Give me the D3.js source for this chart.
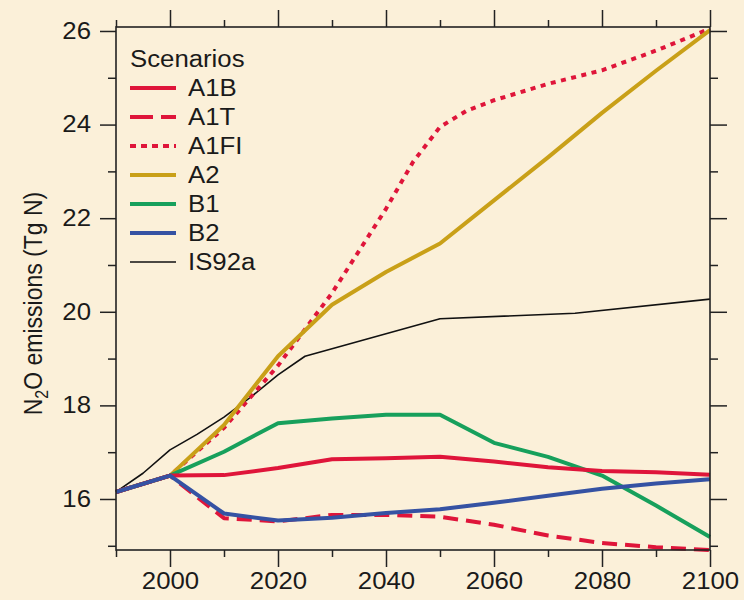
<!DOCTYPE html>
<html>
<head>
<meta charset="utf-8">
<script src="https://cdn.jsdelivr.net/npm/d3@7"></script>
<style>
  html, body { margin: 0; padding: 0; background: #FBF0D9; }
  svg { display: block; }
  text { font-family: "Liberation Sans", Arial, Helvetica, sans-serif; fill: #1a1a1a; }
</style>
</head>
<body>
<svg id="chart" width="744" height="600"></svg>
<script>
// ---------------- DATA ----------------
const sresYears = [1990, 2000, 2010, 2020, 2030, 2040, 2050, 2060, 2070, 2080, 2090, 2100];
const a1b = [16.15, 16.5, 16.51, 16.66, 16.85, 16.87, 16.9, 16.8, 16.68, 16.6, 16.57, 16.52];
const a1t = [16.15, 16.5, 15.59, 15.52, 15.66, 15.66, 15.62, 15.45, 15.22, 15.06, 14.97, 14.91];
const a2  = [16.15, 16.5, 17.58, 19.05, 20.15, 20.85, 21.46, 22.38, 23.3, 24.25, 25.15, 26.02];
const b1  = [16.15, 16.5, 17.01, 17.62, 17.72, 17.8, 17.8, 17.2, 16.9, 16.5, 15.86, 15.19];
const b2  = [16.15, 16.5, 15.69, 15.54, 15.6, 15.7, 15.78, 15.92, 16.07, 16.22, 16.33, 16.42];
const a1fiYears = [1990, 2000, 2010, 2020, 2030, 2040, 2045, 2050, 2055, 2060, 2070, 2080, 2090, 2100];
const a1fi = [16.15, 16.5, 17.52, 18.85, 20.4, 22.2, 23.2, 23.95, 24.3, 24.52, 24.87, 25.16, 25.58, 26.05];
const is92aYears = [1990, 1995, 2000, 2005, 2010, 2015, 2020, 2025, 2050, 2075, 2100];
const is92a = [16.15, 16.55, 17.05, 17.38, 17.75, 18.18, 18.65, 19.05, 19.85, 19.97, 20.27];

const scenarioNames = ["A1B", "A1T", "A1FI", "A2", "B1", "B2", "IS92a"];
const xMajorTicks = [2000, 2020, 2040, 2060, 2080, 2100];
const xMinorTicks = [1990, 2010, 2030, 2050, 2070, 2090];
const yMajorTicks = [16, 18, 20, 22, 24, 26];
const yMinorTicks = [15, 17, 19, 21, 23, 25];
const legendTitle = "Scenarios";

// ---------------- STYLES ----------------
const styles = {
  "A1B":   { color: "#DF153A", width: 4, dash: null,  ldash: null },
  "A1T":   { color: "#DF153A", width: 4, dash: "15,8", ldash: "23,8" },
  "A1FI":  { color: "#DF153A", width: 4, dash: "5,5.5", ldash: "6,5" },
  "A2":    { color: "#C9A018", width: 4, dash: null,  ldash: null },
  "B1":    { color: "#17A05C", width: 4, dash: null,  ldash: null },
  "B2":    { color: "#3552A3", width: 4, dash: null,  ldash: null },
  "IS92a": { color: "#111111", width: 1.6, dash: null, ldash: null }
};

const series = [
  { name: "A1B",   years: sresYears,  values: a1b },
  { name: "A1T",   years: sresYears,  values: a1t },
  { name: "A1FI",  years: a1fiYears,  values: a1fi },
  { name: "A2",    years: sresYears,  values: a2 },
  { name: "B1",    years: sresYears,  values: b1 },
  { name: "B2",    years: sresYears,  values: b2 },
  { name: "IS92a", years: is92aYears, values: is92a }
];

// ---------------- LAYOUT ----------------
const svg = d3.select("#chart");
const mLeft = 116, mRight = 710, mTop = 27, mBottom = 550;
const x = d3.scaleLinear().domain([1990, 2100]).range([mLeft, mRight]);
const y = d3.scaleLinear().domain([14.91, 26.085]).range([mBottom, mTop]);
const axisColor = "#222";
const fontSize = 23;

// draw order: behind -> front
const drawOrder = ["IS92a", "A1FI", "A2", "B1", "A1B", "A1T", "B2"];
const line = d3.line().x(d => x(d[0])).y(d => y(d[1]));
const plot = svg.append("g");
drawOrder.forEach(n => {
  const s = series.find(d => d.name === n);
  const st = styles[n];
  plot.append("path")
    .datum(s.years.map((yr, i) => [yr, s.values[i]]))
    .attr("d", line)
    .attr("fill", "none")
    .attr("stroke", st.color)
    .attr("stroke-width", st.width)
    .attr("stroke-linejoin", "round")
    .attr("stroke-dasharray", st.dash);
});

// ---------------- AXES ----------------
function styleAxis(g) {
  g.selectAll(".domain").remove();
  g.selectAll(".tick line").attr("stroke", axisColor).attr("stroke-width", 1.5);
  g.selectAll(".tick text").attr("font-size", fontSize).attr("fill", "#1a1a1a")
    .attr("font-family", "Liberation Sans, Arial, sans-serif").classed("stretch", true);
}
// bottom
svg.append("g").attr("transform", `translate(0,${mBottom})`)
  .call(d3.axisBottom(x).tickValues(xMajorTicks).tickSize(17).tickPadding(6).tickFormat(d3.format("d")))
  .call(styleAxis);
svg.append("g").attr("transform", `translate(0,${mBottom})`)
  .call(d3.axisBottom(x).tickValues(xMinorTicks).tickSize(7).tickFormat(""))
  .call(styleAxis);
// top
svg.append("g").attr("transform", `translate(0,${mTop})`)
  .call(d3.axisTop(x).tickValues(xMajorTicks).tickSize(17).tickFormat(""))
  .call(styleAxis);
svg.append("g").attr("transform", `translate(0,${mTop})`)
  .call(d3.axisTop(x).tickValues(xMinorTicks).tickSize(7).tickFormat(""))
  .call(styleAxis);
// left
svg.append("g").attr("transform", `translate(${mLeft},0)`)
  .call(d3.axisLeft(y).tickValues(yMajorTicks).tickSize(16).tickPadding(9).tickFormat(d3.format("d")))
  .call(styleAxis);
svg.append("g").attr("transform", `translate(${mLeft},0)`)
  .call(d3.axisLeft(y).tickValues(yMinorTicks).tickSize(8).tickFormat(""))
  .call(styleAxis);
// right
svg.append("g").attr("transform", `translate(${mRight},0)`)
  .call(d3.axisRight(y).tickValues(yMajorTicks).tickSize(17).tickFormat(""))
  .call(styleAxis);
svg.append("g").attr("transform", `translate(${mRight},0)`)
  .call(d3.axisRight(y).tickValues(yMinorTicks).tickSize(8).tickFormat(""))
  .call(styleAxis);

// frame
svg.append("rect")
  .attr("x", mLeft).attr("y", mTop)
  .attr("width", mRight - mLeft).attr("height", mBottom - mTop)
  .attr("fill", "none").attr("stroke", axisColor).attr("stroke-width", 1.6);

// ---------------- Y TITLE ----------------
const yt = svg.append("text")
  .attr("transform", `translate(42,${(mTop + mBottom) / 2 + 15}) scale(1.13,1) rotate(-90)`)
  .attr("text-anchor", "middle")
  .attr("font-size", fontSize);
yt.append("tspan").text("N");
yt.append("tspan").attr("font-size", 16).attr("dy", 5).text("2");
yt.append("tspan").attr("dy", -5).text("O emissions (Tg N)");

// ---------------- LEGEND ----------------
const lg = svg.append("g");
lg.append("text").attr("x", 130).attr("y", 66.5).attr("font-size", fontSize)
  .classed("stretch", true).text(legendTitle);
scenarioNames.forEach((n, i) => {
  const st = styles[n];
  const ly = 88 + i * 29;
  lg.append("line").attr("x1", 130).attr("x2", 176).attr("y1", ly).attr("y2", ly)
    .attr("stroke", st.color).attr("stroke-width", st.width)
    .attr("stroke-dasharray", st.ldash);
  lg.append("text").attr("x", 188).attr("y", ly).attr("dy", "0.36em")
    .attr("font-size", fontSize).classed("stretch", true).text(n);
});

// horizontal stretch of text, as in the reference
svg.selectAll("text.stretch").each(function () {
  const w = this.getComputedTextLength();
  this.setAttribute("textLength", (w * 1.12).toFixed(2));
  this.setAttribute("lengthAdjust", "spacingAndGlyphs");
});
</script>
</body>
</html>
